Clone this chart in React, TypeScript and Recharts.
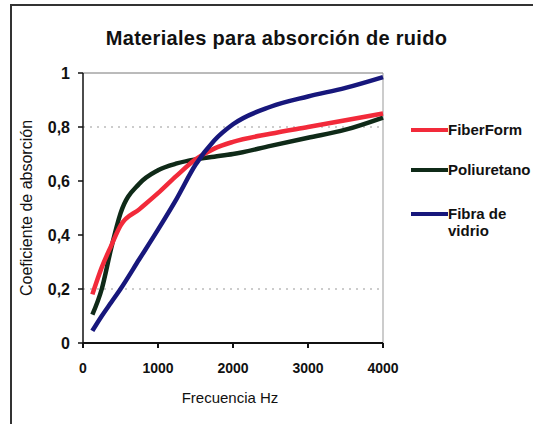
import React from 'react';
import { LineChart, Line, XAxis, YAxis, ReferenceLine } from 'recharts';

// frecuencias (Hz)
const FREQS = [125, 250, 375, 500, 750, 1000, 1250, 1500, 1750, 2000, 2500, 3000, 3500, 4000];
const FIBERFORM = [0.18, 0.28, 0.36, 0.435, 0.495, 0.555, 0.62, 0.68, 0.72, 0.745, 0.775, 0.8, 0.825, 0.85];
const POLIURETANO = [0.105, 0.2, 0.35, 0.48, 0.59, 0.64, 0.665, 0.68, 0.69, 0.7, 0.73, 0.76, 0.79, 0.835];
const FIBRA_VIDRIO = [0.045, 0.1, 0.15, 0.2, 0.31, 0.42, 0.535, 0.66, 0.75, 0.81, 0.875, 0.913, 0.945, 0.985];

const X_TICKS = [0, 1000, 2000, 3000, 4000];
const Y_TICKS = [0, 0.2, 0.4, 0.6, 0.8, 1];

const SERIES = [
  { key: 'fiberform', name: 'FiberForm', color: '#f22a3a' },
  { key: 'poliuretano', name: 'Poliuretano', color: '#0f2a18' },
  { key: 'vidrio', name: 'Fibra de vidrio', color: '#17177c' },
];

const data = FREQS.map((f, i) => ({
  f,
  fiberform: FIBERFORM[i],
  poliuretano: POLIURETANO[i],
  vidrio: FIBRA_VIDRIO[i],
}));

const FONT = '"Liberation Sans", Arial, sans-serif';

const formatY = (v: number) => (v === 0 || v === 1 ? String(v) : v.toFixed(1).replace('.', ','));

function LegendBox() {
  const gaps = [0, 23, 27];
  return (
    <div style={{ position: 'absolute', left: 411, top: 121, fontFamily: FONT }}>
      {SERIES.map((s, i) => (
        <div key={s.key} style={{ display: 'flex', alignItems: 'flex-start', marginTop: gaps[i] }}>
          <div style={{ width: 37, height: 4, background: s.color, marginTop: 7, flexShrink: 0 }} />
          <div
            style={{
              width: 75,
              fontSize: 15,
              fontWeight: 'bold',
              lineHeight: '17px',
              color: '#111',
            }}
          >
            {s.name}
          </div>
        </div>
      ))}
    </div>
  );
}

export default function App() {
  return (
    <div
      style={{
        position: 'absolute',
        left: 0,
        top: 0,
        width: 533,
        height: 424,
        overflow: 'hidden',
        background: '#fff',
        fontFamily: FONT,
      }}
    >
      <div
        style={{
          position: 'absolute',
          left: 10,
          top: 4,
          width: 540,
          height: 440,
          borderTop: '2px solid #333',
          borderLeft: '2px solid #333',
        }}
      />
      <div
        style={{
          position: 'absolute',
          left: 0,
          width: 553,
          top: 27,
          textAlign: 'center',
          fontSize: 20,
          fontWeight: 'bold',
          letterSpacing: 0.3,
          color: '#111',
        }}
      >
        Materiales para absorción de ruido
      </div>
      <div
        style={{
          position: 'absolute',
          left: 130,
          width: 200,
          top: 389,
          textAlign: 'center',
          fontSize: 15,
          color: '#111',
        }}
      >
        Frecuencia Hz
      </div>
      <div
        style={{
          position: 'absolute',
          left: 27,
          top: 208,
          width: 240,
          marginLeft: -120,
          marginTop: -9,
          textAlign: 'center',
          fontSize: 16,
          lineHeight: '18px',
          color: '#111',
          transform: 'rotate(-90deg)',
        }}
      >
        Coeficiente de absorción
      </div>
      <LineChart
        width={533}
        height={424}
        data={data}
        margin={{ top: 73, right: 150, bottom: 51, left: 0 }}
        style={{ position: 'absolute', left: 0, top: 0 }}
      >
        <XAxis
          dataKey="f"
          type="number"
          domain={[0, 4000]}
          ticks={X_TICKS}
          height={30}
          tickSize={5}
          tickMargin={15}
          stroke="#111"
          strokeWidth={2}
          tick={{ fill: '#111', fontSize: 14, fontWeight: 'bold', fontFamily: FONT }}
        />
        <YAxis
          type="number"
          domain={[0, 1]}
          ticks={Y_TICKS}
          width={83}
          tickSize={5}
          tickMargin={8}
          stroke="#111"
          strokeWidth={1.5}
          tickFormatter={formatY}
          tick={{ fill: '#111', fontSize: 16, fontWeight: 'bold', fontFamily: FONT }}
        />
        <ReferenceLine y={0.8} stroke="#999" strokeDasharray="2 5" />
        <ReferenceLine
          y={0.2}
          stroke="#999"
          strokeDasharray="2 5"
          segment={[
            { x: 600, y: 0.2 },
            { x: 2200, y: 0.2 },
          ]}
        />
        <ReferenceLine y={1} stroke="#777" />
        <ReferenceLine x={4000} stroke="#999" />
        <Line
          dataKey="poliuretano"
          name="Poliuretano"
          type="monotone"
          stroke={SERIES[1].color}
          strokeWidth={4.5}
          dot={false}
          isAnimationActive={false}
        />
        <Line
          dataKey="fiberform"
          name="FiberForm"
          type="monotone"
          stroke={SERIES[0].color}
          strokeWidth={4.5}
          dot={false}
          isAnimationActive={false}
        />
        <Line
          dataKey="vidrio"
          name="Fibra de vidrio"
          type="monotone"
          stroke={SERIES[2].color}
          strokeWidth={4.5}
          dot={false}
          isAnimationActive={false}
        />
      </LineChart>
      <LegendBox />
    </div>
  );
}
